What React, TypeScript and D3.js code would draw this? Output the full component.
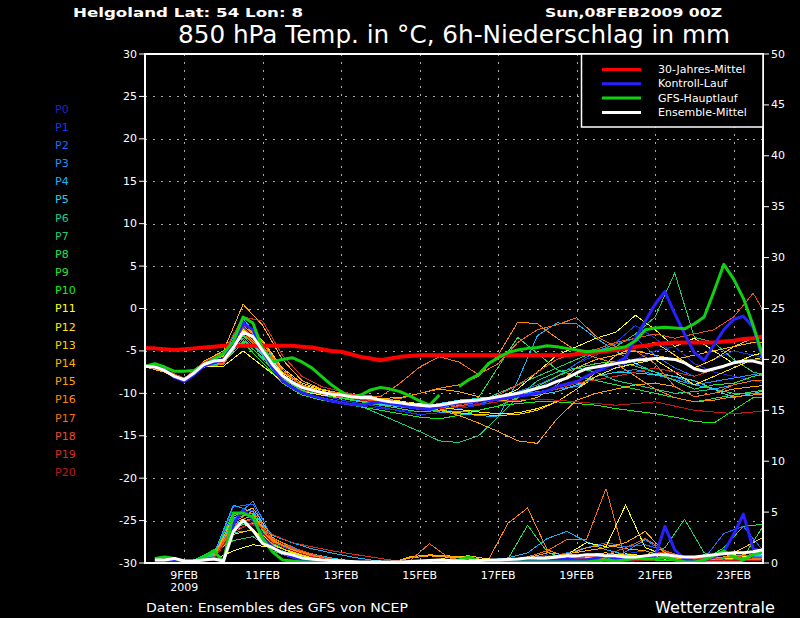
import * as d3 from "d3";

// time steps (hours after 08FEB2009 00Z)
const hours6 = d3.range(0, 384, 6); // main runs, 6-hourly
const memberHoursT = d3.range(0, 396, 12); // members temperature, 12-hourly
const memberHoursP = d3.range(6, 390, 12); // members precipitation, 12-hourly

const tempTicks = d3.range(-30, 31, 5);
const precTicks = d3.range(0, 51, 5);
const dateTicks = [1, 3, 5, 7, 9, 11, 13, 15];
const dateLabels = ["9FEB", "11FEB", "13FEB", "15FEB", "17FEB", "19FEB", "21FEB", "23FEB"];

const memberNames = d3.range(0, 21).map((i) => `P${i}`);
const memberColors = [
  "#2424c8", "#0c3cf4", "#1c6cfa", "#2090ff", "#10b4ff", "#20d0e8", "#10d090",
  "#20cc70", "#20e050", "#30e030", "#14f014", "#ffff14", "#ffe800", "#ffcc00",
  "#ffb000", "#ffa000", "#ff8800", "#f07010", "#e85028", "#d83020", "#c01818",
];

const legendNames = ["30-Jahres-Mittel", "Kontroll-Lauf", "GFS-Hauptlauf", "Ensemble-Mittel"];
const legendColors = ["#ff0000", "#2a20ff", "#10d010", "#ffffff"];

// 850 hPa temperature (°C)
const climTemp = [
  -4.7, -4.7, -4.8, -4.9, -4.8, -4.7, -4.6, -4.5, -4.4, -4.4, -4.4, -4.4, -4.4, -4.4, -4.4, -4.4,
  -4.5, -4.6, -4.8, -5.0, -5.1, -5.4, -5.7, -5.9, -6.1, -5.9, -5.7, -5.6, -5.5, -5.5, -5.5, -5.5,
  -5.5, -5.5, -5.5, -5.5, -5.5, -5.5, -5.5, -5.5, -5.5, -5.5, -5.5, -5.5, -5.4, -5.3, -5.2, -5.0,
  -4.9, -4.7, -4.5, -4.4, -4.2, -4.1, -4.0, -4.0, -4.0, -4.0, -4.0, -3.9, -3.8, -3.6, -3.5, -3.3,
];
const meanTemp = [
  -6.8, -6.9, -7.3, -8.0, -8.4, -7.6, -6.6, -6.2, -6.1, -4.6, -2.8, -3.3, -5.0, -6.6, -7.9, -8.7,
  -9.3, -9.6, -9.9, -10.1, -10.2, -10.4, -10.5, -10.5, -10.8, -11.0, -11.1, -11.3, -11.4, -11.5, -11.4, -11.2,
  -11.0, -10.9, -10.8, -10.6, -10.4, -10.2, -10.0, -9.7, -9.4, -9.1, -8.6, -8.2, -7.6, -7.1, -6.9, -6.7,
  -6.5, -6.3, -6.1, -6.0, -5.9, -5.9, -6.0, -6.4, -7.1, -7.4, -7.1, -6.8, -6.4, -6.2, -6.2, -6.5,
];
const gfsTemp = [
  -6.8, -6.5, -6.9, -7.4, -7.4, -7.3, -6.6, -6.0, -5.3, -3.9, -1.0, -1.7, -4.8, -6.3, -6.0, -5.8,
  -6.3, -7.0, -8.0, -9.0, -9.8, -10.5, -10.2, -9.6, -9.3, -9.5, -9.8, -10.3, -10.9, -11.4, -10.2, null,
  -9.2, -8.4, -7.8, -6.5, -5.8, -5.2, -4.9, -4.7, -4.6, -4.4, -4.5, -4.7, -4.9, -5.1, -5.0, -4.9,
  -4.7, -4.5, -3.8, -2.5, -2.3, -2.2, -2.3, -2.4, -1.8, -1.0, 2.0, 5.2, 3.5, 1.2, -2.0, -5.7,
];
const controlTemp = [
  -6.8, -6.9, -7.2, -8.1, -8.6, -7.8, -6.8, -6.4, -6.0, -4.0, -1.8, -2.5, -5.0, -7.0, -8.5, -9.3,
  -9.9, -10.3, -10.6, -10.9, -11.1, -11.3, -11.4, -11.2, -11.0, -11.2, -11.4, -11.6, -11.8, -11.9, -11.6, -11.3,
  -11.1, -11.0, -10.9, -10.8, -10.7, -10.5, -10.3, -10.2, -10.0, -9.7, -9.2, -8.9, -8.6, -8.0, -7.4, -6.9,
  -6.4, -5.8, -3.5, -1.5, 0.5, 2.0, -0.6, -3.0, -5.2, -6.1, -4.3, -2.5, -1.3, -0.9, -2.2, -6.1,
];

const memberTemp: number[][] = [
  [-6.8, -7.2, -8.6, -6.4, -5.8, -2.0, -5.5, -8.5, -10.0, -10.6, -11.0, -11.5, -11.8, -12.0, -12.2, -12.0, -11.5, -11.2, -10.8, -10.5, -10.0, -9.2, -8.5, -7.5, -7.0, -6.0, -5.0, -4.5, -6.5, -7.5, -8.0, -8.5, -9.0],
  [-6.7, -7.4, -8.3, -6.9, -6.3, -1.5, -4.8, -8.2, -9.6, -10.2, -10.8, -11.2, -11.6, -12.1, -12.5, -12.3, -11.8, -11.4, -11.0, -10.4, -9.5, -8.0, -6.5, -5.5, -4.0, -2.0, -3.5, -5.5, -7.0, -6.0, -5.0, -5.5, -6.0],
  [-6.9, -7.3, -8.5, -6.5, -6.0, -2.2, -4.5, -7.8, -9.2, -9.8, -10.1, -10.6, -11.0, -11.4, -11.8, -12.0, -11.6, -11.3, -10.6, -9.8, -9.0, -8.0, -6.5, -5.0, -4.2, -3.5, -5.5, -7.0, -8.0, -7.2, -6.5, -6.2, -6.8],
  [-6.8, -7.2, -8.3, -6.7, -6.4, -2.5, -5.2, -8.0, -9.5, -10.0, -10.4, -10.8, -11.2, -11.6, -11.9, -11.7, -11.3, -11.0, -10.5, -10.2, -9.8, -9.5, -9.2, -8.0, -7.5, -7.2, -7.8, -8.4, -9.0, -8.6, -8.2, -7.8, -8.0],
  [-6.8, -7.4, -8.6, -6.2, -5.5, -1.2, -4.0, -7.5, -9.0, -9.6, -10.0, -10.4, -10.9, -11.4, -11.8, -12.2, -12.4, -12.6, -12.8, -8.5, -3.2, -1.7, -1.8, -3.5, -5.0, -6.5, -7.5, -8.0, -9.0, -9.5, -9.0, -8.5, -8.5],
  [-6.9, -7.3, -8.4, -6.6, -6.0, -3.0, -5.4, -8.1, -9.4, -10.0, -10.5, -10.9, -11.3, -11.6, -11.6, -11.2, -10.8, -10.6, -10.4, -10.3, -10.2, -9.8, -9.0, -8.0, -7.5, -7.6, -7.8, -8.0, -8.5, -9.5, -10.5, -10.0, -9.5],
  [-6.7, -7.2, -8.2, -6.8, -6.5, -3.5, -6.0, -8.5, -10.0, -10.5, -11.0, -11.5, -12.5, -13.5, -14.5, -15.6, -15.8, -15.0, -12.8, -10.5, -8.5, -7.5, -7.0, -7.5, -8.5, -9.0, -9.5, -10.0, -9.8, -9.5, -10.0, -10.0, -10.2],
  [-6.8, -7.3, -8.4, -6.6, -6.3, -2.8, -5.0, -7.6, -9.0, -9.6, -10.0, -10.4, -10.8, -11.2, -11.6, -11.8, -11.5, -11.0, -10.0, -9.0, -8.0, -7.0, -6.0, -5.0, -4.5, -3.0, -1.0, 4.2, -3.4, -4.0, -6.0, -7.5, -8.0],
  [-6.9, -7.4, -8.5, -6.4, -6.2, -3.2, -5.6, -8.2, -9.6, -10.2, -10.6, -11.0, -11.4, -11.8, -12.2, -12.0, -11.4, -10.5, -6.9, -3.4, -5.3, -7.2, -8.0, -8.5, -9.0, -9.5, -10.0, -10.5, -11.0, -10.6, -10.2, -9.8, -9.5],
  [-6.7, -7.2, -8.3, -6.7, -6.2, -3.8, -5.8, -8.3, -9.7, -10.2, -10.5, -10.8, -11.0, -11.3, -11.7, -12.0, -12.2, -12.0, -11.5, -10.5, -9.2, -8.0, -7.0, -6.5, -6.2, -6.8, -7.5, -8.5, -9.5, -9.0, -8.8, -8.0, -7.5],
  [-6.8, -7.3, -8.4, -6.6, -6.4, -4.0, -6.4, -8.8, -10.2, -10.8, -11.2, -11.6, -12.0, -12.4, -12.8, -13.0, -12.6, -12.0, -11.5, -11.2, -11.0, -11.0, -11.2, -11.4, -11.8, -12.1, -12.4, -12.8, -13.3, -13.5, -12.0, -10.5, -10.4],
  [-6.8, -7.4, -8.5, -6.9, -6.8, -5.0, -6.8, -8.6, -9.8, -10.2, -10.4, -10.6, -10.8, -11.0, -11.2, -11.4, -11.2, -11.0, -10.6, -9.5, -7.5, -5.5, -4.5, -3.5, -2.8, -0.8, -2.5, -4.5, -3.5, -5.0, -6.5, -5.5, -5.0],
  [-6.9, -7.3, -8.3, -6.5, -5.9, -2.4, -4.6, -7.6, -9.0, -9.6, -10.0, -10.3, -10.6, -10.9, -11.3, -11.7, -11.9, -12.2, -12.4, -12.3, -11.8, -11.0, -9.5, -8.0, -7.0, -6.5, -6.0, -7.5, -9.0, -8.0, -7.0, -6.0, -5.5],
  [-6.8, -7.2, -8.2, -6.4, -5.6, -1.8, -3.8, -7.0, -8.8, -9.5, -10.0, -10.4, -10.8, -11.2, -11.6, -12.0, -12.3, -12.5, -12.6, -12.5, -12.0, -11.0, -9.5, -7.5, -5.5, -4.5, -4.0, -5.5, -7.0, -6.0, -4.5, -3.5, -3.0],
  [-6.9, -7.5, -8.7, -6.2, -5.0, 0.5, -2.0, -6.0, -8.5, -9.5, -10.0, -10.4, -10.6, -10.5, -10.0, -9.5, -9.8, -10.4, -10.8, -11.0, -10.5, -9.0, -7.0, -6.0, -5.5, -5.0, -5.5, -6.0, -5.5, -5.0, -4.5, -4.0, -4.0],
  [-6.8, -7.3, -8.4, -6.7, -6.2, -2.6, -5.0, -7.9, -9.4, -10.0, -10.3, -10.6, -10.9, -11.2, -11.6, -12.0, -12.6, -13.5, -14.5, -15.6, -15.9, -13.0, -10.8, -10.0, -9.5, -9.0, -8.8, -9.2, -10.4, -10.0, -9.5, -9.2, -9.0],
  [-6.7, -7.2, -8.3, -6.6, -6.0, -2.0, -4.0, -7.2, -9.0, -9.8, -10.2, -10.6, -10.8, -10.6, -10.0, -9.4, -9.0, -8.0, -5.5, -1.6, -1.8, -3.5, -5.0, -5.8, -6.5, -8.0, -9.5, -10.5, -11.0, -10.8, -10.4, -10.2, -10.0],
  [-6.8, -7.4, -8.5, -6.8, -6.6, -3.0, -5.2, -8.0, -9.3, -9.8, -10.0, -10.2, -10.4, -8.8, -6.9, -5.7, -6.3, -7.8, -6.5, -4.0, -2.5, -1.9, -1.1, -3.3, -4.5, -5.0, -6.5, -9.2, -10.4, -10.0, -9.0, -8.5, -8.5],
  [-6.9, -7.3, -8.4, -6.5, -6.1, -2.3, -4.4, -7.4, -9.1, -9.8, -10.3, -10.7, -11.0, -11.3, -11.6, -11.8, -11.5, -11.0, -10.2, -9.0, -7.5, -6.0, -5.2, -4.8, -4.0, -3.5, -3.0, -3.5, -3.0, -2.5, -1.0, 1.8, -2.2],
  [-6.8, -7.2, -8.2, -6.3, -5.2, -1.0, -1.5, -5.5, -8.0, -9.2, -9.8, -10.3, -10.7, -11.0, -11.3, -11.5, -11.3, -11.0, -10.8, -10.4, -10.0, -9.5, -8.8, -8.4, -8.0, -7.5, -7.0, -7.5, -8.0, -7.2, -6.5, -6.0, -6.0],
  [-6.8, -7.3, -8.5, -6.7, -6.3, -2.7, -5.2, -8.1, -9.5, -10.1, -10.4, -10.8, -11.1, -11.4, -11.7, -11.8, -11.6, -11.3, -11.0, -10.8, -10.7, -10.8, -11.0, -11.2, -11.4, -11.2, -11.0, -11.5, -12.0, -12.2, -12.4, -12.2, -12.0],
];

// 6h precipitation (mm)
const meanPrec = [
  null, 0.3, 0.3, 0.45, 0.2, 0.2, 0.3, 0.4, 0.2, 3.1, 4.2, 3.2, 1.9, 1.5, 1.0, 0.8,
  0.5, 0.4, 0.3, 0.25, 0.2, 0.15, 0.1, 0.1, 0.1, 0.1, 0.1, 0.15, 0.2, 0.25, 0.3, 0.25,
  0.2, 0.2, 0.25, 0.3, 0.3, 0.35, 0.4, 0.5, 0.5, 0.5, 0.6, 0.7, 0.7, 0.8, 0.8, 0.7,
  0.7, 0.6, 0.6, 0.7, 0.8, 0.8, 0.7, 0.6, 0.6, 0.7, 0.8, 0.9, 1.0, 1.0, 1.1, 1.3,
];
const gfsPrec = [
  null, 0.45, 0.6, 0.45, 0.13, 0.1, 0.6, 1.2, 0.1, 4.9, 4.9, 4.5, 2.4, 1.1, 0.3, 0.2,
  0.1, 0.1, 0, 0, 0, 0, 0, 0, 0, 0, 0, 0, 0, 0, 0.1, 0.2,
  0.3, 0.6, 0.2, 0.1, 0.1, 0.1, 0.1, 0.1, 0.1, 0.1, 0.1, 0.1, 0.1, 0.1, 0.2, 0.3,
  0.2, 0.3, 0.5, 0.4, 0.4, 0.6, 0.3, 0.1, 0.1, 0.3, 0.7, 1.2, 0.6, 0.3, 0.8, 1.2,
];
const controlPrec = [
  null, 0.1, 0.2, 0.2, 0.1, 0.1, 0.3, 0.5, 0.2, 3.8, 5.2, 4.3, 2.5, 1.6, 1.0, 0.6,
  0.3, 0.1, 0.1, 0, 0, 0, 0, 0, 0, 0, 0, 0, 0, 0, 0, 0.1,
  0.1, 0.1, 0, 0, 0.1, 0.2, 0.3, 0.3, 0.2, 0.2, 0.3, 0.4, 0.3, 0.3, 0.5, 0.7,
  0.4, 0.3, 0.5, 0.6, 0.6, 3.6, 1.3, 0.4, 0.2, 0.3, 0.6, 1.1, 2.8, 4.8, 1.4, 1.1,
];

const memberPrec: number[][] = [
  [0.1, 0.2, 0.1, 0.4, 3.5, 4.2, 1.8, 1.0, 0.4, 0.2, 0.1, 0, 0, 0, 0, 0, 0, 0, 0, 0.1, 0.2, 0.3, 0.5, 0.2, 0.1, 0.3, 0.2, 0.5, 0.3, 0.6, 0.8, 0.5],
  [0, 0.1, 0.2, 0.3, 4.8, 5.2, 2.2, 1.2, 0.5, 0.2, 0, 0, 0, 0, 0, 0, 0, 0.1, 0.2, 0.4, 0.8, 0.5, 0.3, 0.6, 0.9, 1.2, 0.6, 0.3, 0.2, 0.4, 0.6, 0.3],
  [0.1, 0.1, 0.1, 0.5, 5.5, 5.8, 2.0, 1.4, 0.6, 0.3, 0.1, 0, 0, 0, 0, 0, 0, 0, 0.1, 0.2, 0.5, 1.0, 1.5, 2.0, 1.6, 1.8, 1.2, 0.5, 0.4, 2.9, 3.6, 1.2],
  [0, 0.2, 0.2, 0.6, 4.2, 6.1, 2.4, 1.6, 0.6, 0.2, 0.1, 0, 0, 0, 0, 0, 0, 0.1, 0.3, 0.2, 0.6, 0.8, 0.4, 0.3, 1.1, 2.3, 1.0, 0.4, 0.2, 0.5, 0.8, 0.6],
  [0.1, 0.2, 0.2, 0.8, 5.7, 5.0, 2.7, 2.0, 1.4, 1.0, 0.6, 0.3, 0.1, 0, 0, 0, 0.1, 0.3, 0.5, 1.0, 2.4, 3.1, 2.1, 1.3, 0.8, 0.6, 0.4, 0.4, 0.6, 0.3, 0.5, 0.4],
  [0, 0.1, 0.3, 0.9, 3.8, 4.4, 2.0, 1.3, 0.9, 0.5, 0.2, 0.1, 0, 0, 0, 0, 0, 0, 0.2, 0.4, 0.3, 0.6, 0.5, 0.4, 0.2, 0.5, 0.8, 0.6, 0.4, 0.3, 0.7, 0.9],
  [0.1, 0.2, 0.3, 1.2, 3.0, 3.2, 1.5, 0.9, 0.4, 0.2, 0, 0, 0, 0, 0, 0, 0, 0, 0.1, 0.2, 0.1, 0.2, 0.3, 0.5, 0.4, 0.3, 0.5, 0.6, 0.5, 0.4, 0.3, 0.2],
  [0, 0.1, 0.2, 1.3, 2.2, 2.6, 1.2, 0.5, 0.2, 0.1, 0, 0, 0, 0, 0, 0, 0, 0.1, 0.2, 0.3, 0.2, 0.4, 0.5, 0.6, 0.4, 0.8, 1.5, 4.3, 1.0, 0.4, 0.3, 0.4],
  [0.2, 0.3, 0.2, 1.0, 3.6, 3.9, 1.4, 0.8, 0.3, 0.1, 0, 0, 0, 0, 0, 0, 0, 0, 0.4, 3.7, 1.1, 0.3, 0.2, 0.3, 0.2, 0.4, 0.3, 0.2, 0.3, 1.5, 3.6, 3.8],
  [0.1, 0.2, 0.1, 0.7, 4.4, 4.9, 1.9, 1.0, 0.4, 0.1, 0, 0, 0, 0, 0, 0, 0, 0, 0.1, 0.2, 0.3, 0.3, 0.5, 0.8, 0.3, 0.2, 0.2, 0.3, 0.8, 0.5, 0.6, 3.6],
  [0.2, 0.3, 0.2, 0.6, 5.0, 4.8, 1.6, 0.7, 0.3, 0.1, 0, 0, 0, 0, 0, 0, 0, 0, 0, 0.1, 0.1, 0.2, 0.2, 0.3, 0.2, 0.3, 0.2, 0.2, 0.1, 0.1, 0.2, 0.3],
  [0, 0.1, 0.1, 0.3, 1.2, 1.8, 1.5, 0.6, 0.3, 0.1, 0, 0, 0, 0, 0, 0, 0, 0, 0.1, 0.3, 0.5, 0.8, 2.0, 1.6, 5.7, 1.5, 0.8, 0.4, 0.3, 1.1, 0.6, 0.8],
  [0, 0.1, 0.2, 0.4, 3.2, 3.9, 1.8, 1.0, 0.5, 0.2, 0, 0, 0, 0, 0, 0, 0, 0, 0.2, 0.3, 0.4, 0.3, 0.5, 0.6, 0.9, 0.7, 0.3, 0.4, 0.6, 0.5, 0.3, 0.2],
  [0.1, 0.1, 0.2, 0.5, 2.8, 3.3, 1.7, 1.1, 0.6, 0.3, 0.1, 0, 0, 0, 0.1, 0.6, 0.7, 0.4, 0.2, 0.3, 0.5, 0.6, 0.8, 1.0, 0.7, 0.5, 0.8, 0.6, 0.4, 0.5, 1.5, 2.5],
  [0, 0.1, 0.1, 0.5, 4.6, 5.4, 2.5, 1.5, 0.8, 0.3, 0.1, 0, 0, 0.6, 0.8, 0.7, 0.5, 0.3, 0.4, 0.5, 0.6, 0.9, 1.2, 1.5, 2.0, 3.1, 1.0, 0.6, 0.5, 0.3, 0.4, 0.6],
  [0.1, 0.2, 0.1, 0.4, 3.9, 4.7, 2.3, 1.3, 0.7, 0.3, 0.1, 0, 0, 0.5, 0.7, 0.6, 0.4, 0.2, 0.3, 0.5, 1.0, 0.8, 1.5, 1.8, 1.4, 1.2, 0.6, 0.4, 0.5, 0.3, 0.4, 0.5],
  [0, 0.1, 0.2, 0.6, 4.0, 5.1, 2.2, 1.4, 0.8, 0.4, 0.1, 0, 0, 0.1, 0.2, 0.3, 0.2, 0.3, 3.9, 5.4, 1.3, 0.6, 0.4, 0.5, 0.7, 0.5, 0.4, 0.3, 0.4, 0.6, 0.8, 0.7],
  [0.1, 0.1, 0.2, 0.4, 3.4, 4.5, 2.1, 1.4, 0.7, 0.3, 0.1, 0, 0, 0.2, 1.9, 0.5, 0.2, 0.2, 0.3, 0.6, 1.2, 2.3, 2.3, 7.3, 0.3, 0.8, 0.4, 0.6, 0.5, 0.3, 0.5, 0.4],
  [0, 0.1, 0.1, 0.5, 3.7, 4.3, 2.4, 1.5, 0.9, 0.4, 0.2, 0.1, 0, 0, 0.1, 0.1, 0, 0, 0.2, 0.3, 0.5, 0.4, 0.6, 0.8, 1.5, 2.4, 1.2, 0.6, 0.4, 0.5, 0.7, 1.0],
  [0.1, 0.2, 0.2, 0.4, 3.0, 4.0, 2.8, 2.0, 1.6, 1.2, 0.9, 0.6, 0.3, 0.1, 0, 0, 0, 0, 0.1, 0.2, 0.3, 0.5, 0.4, 0.3, 0.6, 0.8, 1.1, 0.5, 0.3, 0.2, 0.4, 0.6],
  [0, 0.1, 0.1, 0.3, 3.3, 3.8, 2.0, 1.2, 0.6, 0.3, 0.1, 0, 0, 0, 0, 0, 0, 0, 0, 0.1, 0.2, 0.2, 0.3, 0.4, 0.3, 0.2, 0.4, 0.3, 0.2, 0.3, 0.2, 0.2],
];

const FONT = "'DejaVu Sans', sans-serif";

export default function App() {
  const left = 145;
  const right = 763;
  const top = 54;
  const bottom = 563;

  const x = d3.scaleLinear().domain([0, 378]).range([left, right]);
  const yT = d3.scaleLinear().domain([-30, 30]).range([bottom, top]);
  const yP = d3.scaleLinear().domain([0, 50]).range([bottom, top]);

  const path = (hours: number[], vals: (number | null)[], y: d3.ScaleLinear<number, number>) =>
    d3
      .line<number | null>()
      .defined((d) => d != null)
      .x((_, i) => x(hours[i]))
      .y((d) => y(d as number))(vals) || "";

  // climatology, control, GFS main run, ensemble mean
  const mainRuns = [
    { t: climTemp, p: null, color: legendColors[0], w: 4 },
    { t: controlTemp, p: controlPrec, color: legendColors[1], w: 3 },
    { t: gfsTemp, p: gfsPrec, color: legendColors[2], w: 3 },
    { t: meanTemp, p: meanPrec, color: legendColors[3], w: 3 },
  ];

  return (
    <svg
      width={800}
      height={618}
      style={{ position: "fixed", left: 0, top: 0, display: "block" }}
      fontFamily={FONT}
    >
      <rect width={800} height={618} fill="#000" />
      <defs>
        <clipPath id="plot">
          <rect x={left} y={top} width={right - left} height={bottom - top} />
        </clipPath>
      </defs>

      {/* titles */}
      <text x={73} y={17} fill="#fff" fontSize={13} fontWeight="bold" textLength={230} lengthAdjust="spacingAndGlyphs">
        Helgoland  Lat: 54 Lon: 8
      </text>
      <text x={545} y={17} fill="#fff" fontSize={13} fontWeight="bold" textLength={177} lengthAdjust="spacingAndGlyphs">
        Sun,08FEB2009 00Z
      </text>
      <text x={178} y={43} fill="#fff" fontSize={24} textLength={552} lengthAdjust="spacingAndGlyphs">
        850 hPa Temp. in °C, 6h-Niederschlag in mm
      </text>

      {/* grid */}
      <g stroke="#a8a8a8" strokeWidth={1} strokeDasharray="2,6">
        {tempTicks
          .filter((t) => t > -30 && t < 30)
          .map((t) => (
            <line key={`h${t}`} x1={left} x2={right} y1={Math.round(yT(t)) + 0.5} y2={Math.round(yT(t)) + 0.5} />
          ))}
        {dateTicks.map((d) => (
          <line key={`v${d}`} x1={Math.round(x(d * 24)) + 0.5} x2={Math.round(x(d * 24)) + 0.5} y1={top} y2={bottom} />
        ))}
      </g>

      {/* axes */}
      <g fill="#fff" fontSize={11}>
        {tempTicks.map((t) => (
          <g key={`lt${t}`}>
            <line x1={139} x2={left} y1={yT(t)} y2={yT(t)} stroke="#fff" />
            <text x={137} y={yT(t)} textAnchor="end" dominantBaseline="central">
              {t}
            </text>
          </g>
        ))}
        {precTicks.map((p) => (
          <g key={`rt${p}`}>
            <line x1={right} x2={769} y1={yP(p)} y2={yP(p)} stroke="#fff" />
            <text x={771} y={yP(p)} dominantBaseline="central">
              {p}
            </text>
          </g>
        ))}
        {dateTicks.map((d, i) => (
          <text key={`d${d}`} x={x(d * 24)} y={579} textAnchor="middle">
            {dateLabels[i]}
          </text>
        ))}
        <text x={x(24)} y={591} textAnchor="middle">
          2009
        </text>
      </g>

      {/* member legend */}
      <g fontSize={11}>
        {memberNames.map((n, i) => (
          <text key={n} x={55} y={109 + i * 18.18} fill={memberColors[i]} dominantBaseline="central">
            {n}
          </text>
        ))}
      </g>

      {/* data */}
      <g clipPath="url(#plot)" fill="none" strokeLinejoin="round">
        {memberTemp.map((vals, i) => (
          <path key={`mt${i}`} d={path(memberHoursT, vals, yT)} stroke={memberColors[i]} strokeWidth={1} shapeRendering="crispEdges" />
        ))}
        {memberPrec.map((vals, i) => (
          <path key={`mp${i}`} d={path(memberHoursP, vals, yP)} stroke={memberColors[i]} strokeWidth={1} shapeRendering="crispEdges" />
        ))}
        {mainRuns.map((r, i) => (
          <g key={`run${i}`}>
            <path d={path(hours6, r.t, yT)} stroke={r.color} strokeWidth={r.w} />
            {r.p && <path d={path(hours6, r.p, yP)} stroke={r.color} strokeWidth={r.w} />}
          </g>
        ))}
      </g>

      {/* frame */}
      <rect x={left} y={top} width={right - left} height={bottom - top} fill="none" stroke="#fff" strokeWidth={2} />

      {/* run legend */}
      <g>
        <rect x={581.5} y={top} width={right - 581.5} height={73} fill="#000" stroke="#fff" strokeWidth={1.5} />
        {legendNames.map((n, i) => (
          <g key={n}>
            <line x1={602} x2={641} y1={69.5 + i * 14.3} y2={69.5 + i * 14.3} stroke={legendColors[i]} strokeWidth={3} />
            <text x={658} y={69.5 + i * 14.3} fill="#fff" fontSize={11} dominantBaseline="central">
              {n}
            </text>
          </g>
        ))}
      </g>

      {/* footer */}
      <text x={146} y={612} fill="#fff" fontSize={12} textLength={262} lengthAdjust="spacingAndGlyphs">
        Daten: Ensembles des GFS von NCEP
      </text>
      <text x={655} y={613} fill="#fff" fontSize={15} textLength={120} lengthAdjust="spacingAndGlyphs">
        Wetterzentrale
      </text>
    </svg>
  );
}
